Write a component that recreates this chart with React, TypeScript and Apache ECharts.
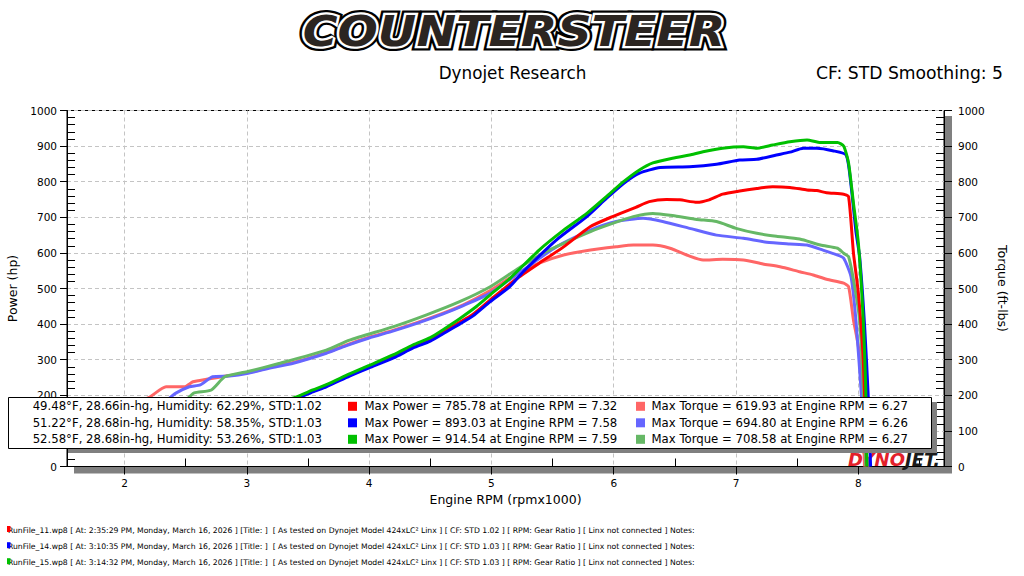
import React, { useEffect, useRef } from 'react';
import * as echarts from 'echarts';

const FONT = '"DejaVu Sans", Verdana, sans-serif';

const xMajorTicks = [2, 3, 4, 5, 6, 7, 8];
const xMinorTicks = [2.5, 3.5, 4.5, 5.5, 6.5, 7.5, 8.5];
const yMinorTicks = [
  20, 40, 60, 80, 120, 140, 160, 180, 220, 240, 260, 280, 320, 340, 360, 380,
  420, 440, 460, 480, 520, 540, 560, 580, 620, 640, 660, 680, 720, 740, 760, 780,
  820, 840, 860, 880, 920, 940, 960, 980,
];
// left tick labels hidden behind the results box in the reference
const leftHiddenLabels = [100];

// Run 11 (red)
const run11Power = [
  [2.2, 82], [2.4, 100], [2.6, 116], [2.8, 134], [3.0, 150], [3.2, 170], [3.4, 193], [3.54, 212],
  [3.65, 226], [3.84, 257], [4.0, 280], [4.2, 308], [4.36, 337], [4.5, 355], [4.63, 383], [4.74, 405],
  [4.85, 428], [4.99, 468], [5.2, 526], [5.39, 571], [5.59, 617], [5.81, 674], [5.99, 702], [6.18, 728],
  [6.29, 744], [6.43, 750], [6.54, 749], [6.68, 742], [6.78, 749], [6.89, 765], [7.03, 774], [7.17, 781],
  [7.3, 786], [7.44, 784], [7.58, 777], [7.66, 775], [7.74, 769], [7.88, 765], [7.92, 758], [7.96, 599],
  [8.0, 487], [8.04, 300], [8.07, 0],
];
const run11Torque = [
  [2.12, 182], [2.21, 196], [2.34, 224], [2.49, 224], [2.56, 238], [2.67, 245], [2.83, 254], [3.0, 263],
  [3.21, 280], [3.38, 292], [3.65, 320], [3.81, 341], [4.0, 363], [4.2, 383], [4.39, 404], [4.6, 430],
  [4.77, 454], [4.99, 494], [5.2, 540], [5.39, 571], [5.59, 594], [5.81, 608], [6.02, 617], [6.16, 622],
  [6.32, 622], [6.46, 613], [6.62, 591], [6.73, 580], [6.89, 582], [7.06, 580], [7.22, 569], [7.36, 561],
  [7.52, 547], [7.63, 538], [7.74, 526], [7.88, 515], [7.92, 505], [7.96, 411], [8.0, 337], [8.03, 200],
  [8.05, 0],
];
// Run 14 (blue)
const run14Power = [
  [2.42, 95], [2.6, 112], [2.8, 132], [3.0, 150], [3.2, 170], [3.4, 190], [3.54, 210], [3.65, 224],
  [3.84, 254], [4.0, 277], [4.2, 305], [4.36, 333], [4.5, 352], [4.63, 378], [4.74, 400], [4.85, 423],
  [4.99, 463], [5.15, 505], [5.26, 547], [5.53, 636], [5.78, 702], [5.94, 753], [6.08, 795], [6.21, 824],
  [6.38, 840], [6.62, 842], [6.84, 849], [7.03, 861], [7.17, 863], [7.33, 875], [7.44, 883], [7.55, 894],
  [7.66, 894], [7.79, 887], [7.9, 875], [7.94, 790], [7.98, 660], [8.01, 590], [8.05, 400], [8.08, 200],
  [8.1, 0],
];
const run14Torque = [
  [2.36, 190], [2.42, 206], [2.53, 224], [2.62, 229], [2.72, 252], [2.86, 254], [3.0, 261], [3.21, 278],
  [3.38, 290], [3.65, 318], [3.81, 339], [4.0, 361], [4.2, 381], [4.39, 402], [4.6, 428], [4.77, 452],
  [4.99, 487], [5.26, 552], [5.53, 617], [5.81, 664], [6.02, 688], [6.24, 697], [6.4, 688], [6.62, 669],
  [6.84, 650], [7.06, 641], [7.25, 630], [7.44, 625], [7.58, 622], [7.71, 608], [7.83, 594], [7.88, 585],
  [7.94, 533], [7.98, 411], [8.02, 224], [8.06, 40], [8.09, 0],
];
// Run 15 (green)
const run15Power = [
  [2.57, 101], [2.8, 128], [3.0, 150], [3.2, 172], [3.4, 195], [3.54, 215], [3.65, 230], [3.84, 260],
  [4.0, 284], [4.2, 314], [4.36, 342], [4.5, 362], [4.63, 390], [4.74, 415], [4.88, 450], [4.99, 482],
  [5.15, 528], [5.39, 608], [5.59, 664], [5.78, 711], [5.94, 758], [6.08, 800], [6.21, 833], [6.32, 853],
  [6.48, 866], [6.65, 877], [6.73, 884], [6.89, 894], [7.06, 898], [7.17, 894], [7.3, 903], [7.44, 912],
  [7.58, 917], [7.69, 910], [7.83, 910], [7.88, 900], [7.92, 852], [7.96, 739], [8.0, 627], [8.04, 411],
  [8.06, 224], [8.07, 0],
];
const run15Torque = [
  [2.52, 192], [2.57, 207], [2.71, 215], [2.82, 252], [3.0, 266], [3.27, 290], [3.65, 327], [3.84, 355],
  [4.2, 393], [4.47, 426], [4.74, 463], [4.99, 505], [5.2, 552], [5.42, 599], [5.59, 627], [5.81, 660],
  [5.99, 683], [6.16, 702], [6.32, 711], [6.48, 705], [6.68, 694], [6.84, 688], [7.0, 669], [7.17, 655],
  [7.33, 647], [7.52, 639], [7.69, 622], [7.83, 613], [7.88, 599], [7.92, 589], [7.97, 505], [8.01, 411],
  [8.04, 224], [8.06, 0],
];

const powerColors = ['#ff0000', '#0000ff', '#00c000'];
const torqueColors = ['#ff6666', '#6666ff', '#66b866'];

const conditions = [
  '49.48°F, 28.66in-hg, Humidity: 62.29%, STD:1.02',
  '51.22°F, 28.68in-hg, Humidity: 58.35%, STD:1.03',
  '52.58°F, 28.68in-hg, Humidity: 53.26%, STD:1.03',
];
const maxPowerTexts = [
  'Max Power = 785.78 at Engine RPM = 7.32',
  'Max Power = 893.03 at Engine RPM = 7.58',
  'Max Power = 914.54 at Engine RPM = 7.59',
];
const maxTorqueTexts = [
  'Max Torque = 619.93 at Engine RPM = 6.27',
  'Max Torque = 694.80 at Engine RPM = 6.26',
  'Max Torque = 708.58 at Engine RPM = 6.27',
];
const runInfo = [
  'RunFile_11.wp8 [ At: 2:35:29 PM, Monday, March 16, 2026 ] [Title: ]  [ As tested on Dynojet Model 424xLC² Linx ] [ CF: STD 1.02 ] [ RPM: Gear Ratio ] [ Linx not connected ] Notes:',
  'RunFile_14.wp8 [ At: 3:10:35 PM, Monday, March 16, 2026 ] [Title: ]  [ As tested on Dynojet Model 424xLC² Linx ] [ CF: STD 1.03 ] [ RPM: Gear Ratio ] [ Linx not connected ] Notes:',
  'RunFile_15.wp8 [ At: 3:14:32 PM, Monday, March 16, 2026 ] [Title: ]  [ As tested on Dynojet Model 424xLC² Linx ] [ CF: STD 1.03 ] [ RPM: Gear Ratio ] [ Linx not connected ] Notes:',
];

const runs = [
  { name: 'RunFile_11', power: run11Power, torque: run11Torque },
  { name: 'RunFile_14', power: run14Power, torque: run14Torque },
  { name: 'RunFile_15', power: run15Power, torque: run15Torque },
];

function buildGraphics(): any[] {
  const g: any[] = [];
  // plot drop shadow
  g.push({ type: 'rect', z: -10, silent: true, shape: { x: 945, y: 116, width: 7, height: 357 }, style: { fill: '#808080' } });
  g.push({ type: 'rect', z: -10, silent: true, shape: { x: 74, y: 467, width: 878, height: 6.5 }, style: { fill: '#808080' } });

  // COUNTERSTEER logo
  const logoStyle = { text: 'COUNTERSTEER', fontSize: 42, fontFamily: FONT, fontWeight: 'bold', fontStyle: 'italic', align: 'center', verticalAlign: 'middle' };
  g.push({
    type: 'group', x: 514, y: 31, scaleX: 1.13, scaleY: 1, children: [
      { type: 'text', style: { ...logoStyle, fill: '#000', stroke: '#000', lineWidth: 9 } },
      { type: 'text', style: { ...logoStyle, fill: '#fff', stroke: '#fff', lineWidth: 4.5 } },
      { type: 'text', style: { ...logoStyle, fill: '#2b2521' } },
    ],
  });

  // header texts
  g.push({ type: 'text', x: 512.5, y: 72.5, style: { text: 'Dynojet Research', fontSize: 16.8, fontFamily: FONT, fill: '#000', align: 'center', verticalAlign: 'middle' } });
  g.push({ type: 'text', x: 1003, y: 72.5, style: { text: 'CF: STD Smoothing: 5', fontSize: 17.2, fontFamily: FONT, fill: '#000', align: 'right', verticalAlign: 'middle' } });

  // DYNOJET logo
  g.push({
    type: 'text', z: 1, x: 848, y: 459.5,
    style: {
      text: '{a|DYNO}{b|JET.}', verticalAlign: 'middle', align: 'left',
      rich: {
        a: { fill: '#e3202a', fontSize: 18, fontFamily: FONT, fontWeight: 'bold', fontStyle: 'italic' },
        b: { fill: '#1a1a1a', fontSize: 18, fontFamily: FONT, fontWeight: 'bold', fontStyle: 'italic' },
      },
    },
  });

  // results box
  g.push({ type: 'rect', z: 99, silent: true, shape: { x: 68, y: 402, width: 869, height: 51 }, style: { fill: '#808080' } });
  g.push({ type: 'rect', z: 100, silent: true, shape: { x: 8.5, y: 397.5, width: 923, height: 51 }, style: { fill: '#fff', stroke: '#000', lineWidth: 1 } });
  const rowY = [406.3, 422.8, 439.3];
  rowY.forEach((y, i) => {
    const ts = { fontSize: 11.7, lineHeight: 12, fontFamily: FONT, fill: '#000', verticalAlign: 'middle' };
    g.push({ type: 'text', z: 101, x: 322, y, style: { ...ts, text: conditions[i], align: 'right' } });
    g.push({ type: 'rect', z: 101, shape: { x: 348, y: y - 4.5, width: 9, height: 9 }, style: { fill: powerColors[i] } });
    g.push({ type: 'text', z: 101, x: 364.5, y, style: { ...ts, text: maxPowerTexts[i], align: 'left' } });
    g.push({ type: 'rect', z: 101, shape: { x: 636, y: y - 4.5, width: 9, height: 9 }, style: { fill: torqueColors[i] } });
    g.push({ type: 'text', z: 101, x: 651.5, y, style: { ...ts, text: maxTorqueTexts[i], align: 'left' } });
  });

  // run info lines
  const infoY = [530.5, 546.7, 562.7];
  infoY.forEach((y, i) => {
    g.push({ type: 'text', x: 8, y, style: { text: runInfo[i], fontSize: 7.7, fontFamily: FONT, fill: '#000', align: 'left', verticalAlign: 'middle' } });
    g.push({ type: 'rect', z: 5, shape: { x: 7, y: y - 4.5, width: 3.5, height: 6 }, style: { fill: powerColors[i] } });
  });
  return g;
}

export default function App() {
  const ref = useRef<HTMLDivElement>(null);
  useEffect(() => {
    if (!ref.current) return;
    const chart = echarts.init(ref.current, undefined, { renderer: 'svg' });
    const labelStyle = { fontSize: 10.5, fontFamily: FONT, color: '#000' };
    const nameStyle = { fontSize: 12.5, fontFamily: FONT, color: '#000' };
    const black = { color: '#000', width: 1 };
    const series: any[] = [];
    runs.forEach((r, i) => {
      series.push({
        name: r.name + ' Power', type: 'line', xAxisIndex: 0, yAxisIndex: 0, data: r.power,
        showSymbol: false, smooth: 0.2, lineStyle: { color: powerColors[i], width: 3 }, itemStyle: { color: powerColors[i] }, z: 3,
      });
      series.push({
        name: r.name + ' Torque', type: 'line', xAxisIndex: 0, yAxisIndex: 1, data: r.torque,
        showSymbol: false, smooth: 0.2, lineStyle: { color: torqueColors[i], width: 3 }, itemStyle: { color: torqueColors[i] }, z: 2,
      });
    });
    const option: any = {
      animation: false,
      backgroundColor: '#ffffff',
      grid: {
        left: 67, right: 80, top: 110.5, bottom: 109.5, show: true, borderColor: '#000', borderWidth: 1,
        backgroundColor: 'transparent', containLabel: false, outerBoundsMode: 'none',
      },
      xAxis: [
        {
          type: 'value', min: 1.53, max: 8.7, splitNumber: 7, position: 'bottom',
          axisLine: { show: true, lineStyle: black },
          axisTick: { show: true, inside: false, length: 8, customValues: xMajorTicks, lineStyle: black },
          axisLabel: { ...labelStyle, margin: 11, customValues: xMajorTicks, formatter: (v: number) => String(v) },
          splitLine: { show: true, lineStyle: { color: '#c4c4c4', type: [4, 3], width: 1 } },
          name: 'Engine RPM (rpmx1000)', nameLocation: 'middle', nameGap: 26, nameTextStyle: nameStyle,
        },
        {
          type: 'value', min: 1.53, max: 8.7, position: 'bottom',
          axisLine: { show: false }, axisLabel: { show: false }, splitLine: { show: false },
          axisTick: { show: true, inside: true, length: 8, customValues: xMinorTicks, lineStyle: black },
        },
      ],
      yAxis: [
        {
          type: 'value', min: 0, max: 1000, interval: 100, position: 'left',
          axisLine: { show: true, lineStyle: black },
          axisTick: { show: true, inside: false, length: 7, lineStyle: black },
          axisLabel: {
            ...labelStyle, margin: 10, lineHeight: 9, padding: [0, 0, 2, 0],
            formatter: (v: number) => (leftHiddenLabels.includes(v) ? '' : String(v)),
          },
          splitLine: { show: true, lineStyle: { color: '#c4c4c4', type: [4, 3], width: 1 } },
          name: 'Power (hp)', nameLocation: 'middle', nameGap: 45, nameRotate: 90, nameTextStyle: nameStyle,
        },
        {
          type: 'value', min: 0, max: 1000, interval: 100, position: 'right',
          axisLine: { show: true, lineStyle: black },
          axisTick: { show: true, inside: false, length: 8, lineStyle: black },
          axisLabel: { ...labelStyle, margin: 14, formatter: (v: number) => String(v) },
          splitLine: { show: false },
          name: 'Torque (ft-lbs)', nameLocation: 'middle', nameGap: 47, nameRotate: -90, nameTextStyle: nameStyle,
        },
        {
          type: 'value', min: 0, max: 1000, position: 'left',
          axisLine: { show: false }, axisLabel: { show: false }, splitLine: { show: false },
          axisTick: { show: true, inside: true, length: 8, customValues: yMinorTicks, lineStyle: black },
        },
        {
          type: 'value', min: 0, max: 1000, position: 'right',
          axisLine: { show: false }, axisLabel: { show: false }, splitLine: { show: false },
          axisTick: { show: true, inside: true, length: 8, customValues: yMinorTicks, lineStyle: black },
        },
      ],
      series,
      graphic: { elements: buildGraphics() },
    };
    chart.setOption(option);
    return () => chart.dispose();
  }, []);
  return (
    <div
      ref={ref}
      style={{ position: 'absolute', left: 0, top: 0, width: 1024, height: 576, background: '#fff' }}
    />
  );
}
